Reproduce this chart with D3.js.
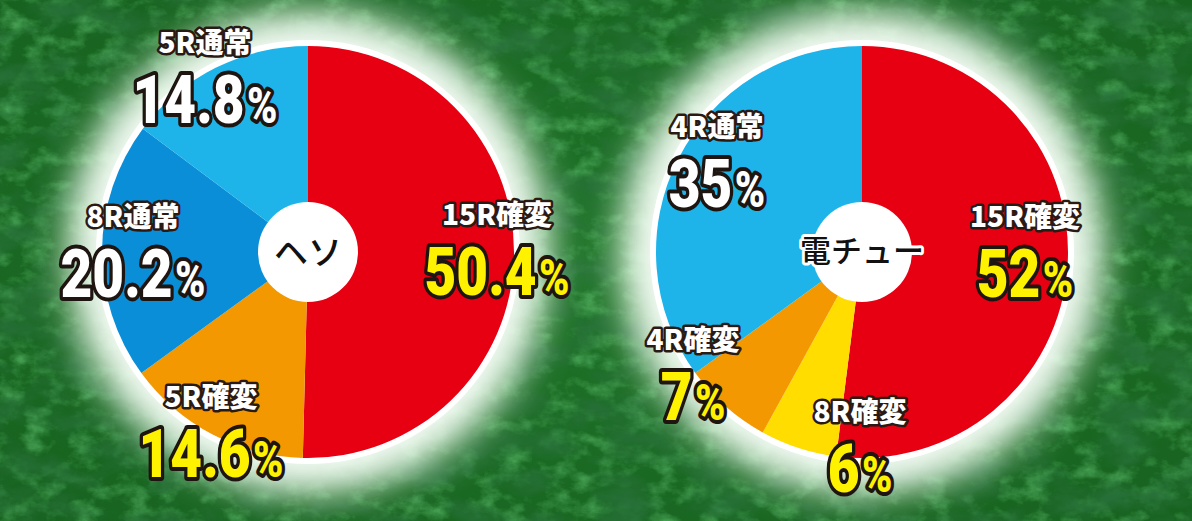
<!DOCTYPE html>
<html>
<head>
<meta charset="utf-8">
<script src="https://cdn.jsdelivr.net/npm/d3@7"></script>
<style>
  html, body { margin: 0; padding: 0; background: #16521f; }
  svg { display: block; }
</style>
</head>
<body>
<svg id="chart"></svg>
<script>
// Data: two pies, slices listed clockwise from 12 o'clock
const hesoNames  = ["15R確変", "5R確変", "8R通常", "5R通常"];
const hesoValues = [50.4, 14.6, 20.2, 14.8];
const hesoLabels = ["50.4", "14.6", "20.2", "14.8"];

const denNames  = ["15R確変", "8R確変", "4R確変", "4R通常"];
const denValues = [52, 6, 7, 35];
const denLabels = ["52", "6", "7", "35"];

const pieTitles = ["ヘソ", "電チュー"];

// Colours per slice name
const sliceColor = {
  "15R確変": "#e60012",
  "5R確変": "#f39800",
  "4R確変": "#f39800",
  "8R確変": "#ffdd00",
  "8R通常": "#0a8ed8",
  "5R通常": "#1eb4ea",
  "4R通常": "#1eb4ea"
};
// value text colour: yellow for 確変, white for 通常
const valueColor = name => name.indexOf("確変") >= 0 ? "#fff200" : "#ffffff";

// Layout
const width = 1192;
const height = 521;
const radius = 206;
const innerR = 50;

// label anchor offsets from the pie centre (dx, baseline of value text)
const hesoLabelPos = [[189, 43], [-97, 225], [-175, 45], [-103, -129]];
const denLabelPos  = [[163, 45], [-2, 240], [-169, 168], [-145, -45]];

const svg = d3.select("#chart")
  .attr("width", width)
  .attr("height", height);

const defs = svg.append("defs");

// textured green background: dark blotches + light streaks
const tex = defs.append("filter").attr("id", "tex")
  .attr("x", 0).attr("y", 0).attr("width", "100%").attr("height", "100%");
tex.append("feTurbulence")
  .attr("type", "fractalNoise")
  .attr("baseFrequency", "0.02 0.035")
  .attr("numOctaves", 6)
  .attr("seed", 11)
  .attr("result", "noise");
tex.append("feColorMatrix")
  .attr("in", "noise")
  .attr("type", "matrix")
  .attr("values", "0 0 0 0 0.02  0 0 0 0 0.16  0 0 0 0 0.04  -2.2 0 0 0 1.3");

const tex2 = defs.append("filter").attr("id", "tex2")
  .attr("x", 0).attr("y", 0).attr("width", "100%").attr("height", "100%");
tex2.append("feTurbulence")
  .attr("type", "fractalNoise")
  .attr("baseFrequency", "0.04 0.06")
  .attr("numOctaves", 5)
  .attr("seed", 3)
  .attr("result", "noise");
tex2.append("feColorMatrix")
  .attr("in", "noise")
  .attr("type", "matrix")
  .attr("values", "0 0 0 0 0.12  0 0 0 0 0.55  0 0 0 0 0.17  1.4 0 0 0 -0.62");

const glow = defs.append("filter").attr("id", "glow")
  .attr("x", "-50%").attr("y", "-50%").attr("width", "200%").attr("height", "200%");
glow.append("feGaussianBlur").attr("stdDeviation", 20);

const vign = defs.append("radialGradient").attr("id", "vign")
  .attr("cx", "50%").attr("cy", "50%").attr("r", "70%");
vign.append("stop").attr("offset", "0%").attr("stop-color", "#1f7429");
vign.append("stop").attr("offset", "100%").attr("stop-color", "#17621f");

svg.append("rect").attr("width", width).attr("height", height).attr("fill", "url(#vign)");
svg.append("rect").attr("width", width).attr("height", height).attr("filter", "url(#tex2)");
svg.append("rect").attr("width", width).attr("height", height).attr("filter", "url(#tex)");

const pie = d3.pie().sort(null).value(d => d.value);
const arc = d3.arc().innerRadius(0).outerRadius(radius);

function drawPie(cx, cy, names, values, labels, pos, title) {
  const data = names.map((n, i) => ({ name: n, value: values[i], label: labels[i], pos: pos[i] }));
  const g = svg.append("g").attr("transform", `translate(${cx},${cy})`);

  // white glow round the pie
  g.append("circle").attr("r", radius + 34).attr("fill", "#eaffea")
    .attr("opacity", 0.85).attr("filter", "url(#glow)");
  g.append("circle").attr("r", radius + 18).attr("fill", "#ffffff")
    .attr("opacity", 0.9).attr("filter", "url(#glow)");
  g.append("circle").attr("r", radius + 6).attr("fill", "#ffffff");

  g.selectAll("path.slice")
    .data(pie(data))
    .enter()
    .append("path")
    .attr("class", "slice")
    .attr("d", arc)
    .attr("fill", d => sliceColor[d.data.name]);

  g.append("circle").attr("r", innerR).attr("fill", "#ffffff");

  g.append("text")
    .attr("text-anchor", "middle")
    .attr("y", title.length > 2 ? 10 : 13)
    .attr("font-family", "'Noto Sans CJK JP', sans-serif")
    .attr("font-size", title.length > 2 ? 31 : 34)
    .attr("font-weight", 500)
    .attr("fill", "#111")
    .attr("stroke", "#fff")
    .attr("stroke-width", 6)
    .attr("stroke-linejoin", "round")
    .attr("paint-order", "stroke")
    .text(title);

  const lab = g.selectAll("g.lab")
    .data(data)
    .enter()
    .append("g")
    .attr("class", "lab")
    .attr("transform", d => `translate(${d.pos[0]},${d.pos[1]})`);

  lab.append("text")
    .attr("text-anchor", "middle")
    .attr("y", -70)
    .attr("font-family", "'Noto Sans CJK JP', sans-serif")
    .attr("font-size", 28)
    .attr("font-weight", 900)
    .attr("fill", "#fff")
    .attr("stroke", "#2a1a14")
    .attr("stroke-width", 5)
    .attr("stroke-linejoin", "round")
    .attr("paint-order", "stroke")
    .text(d => d.name);

  // condensed heavy numerals
  const val = lab.append("g")
    .attr("transform", "scale(0.82,1)")
    .append("text")
    .attr("text-anchor", "middle")
    .attr("font-family", "Roboto, 'DejaVu Sans', sans-serif")
    .attr("font-weight", 900)
    .attr("font-size", 67)
    .attr("fill", d => valueColor(d.name))
    .attr("stroke", "#1e1410")
    .attr("stroke-width", 8)
    .attr("stroke-linejoin", "round")
    .attr("paint-order", "stroke");
  val.append("tspan").text(d => d.label);
  val.append("tspan").attr("font-size", 50).attr("dx", 3).text("%");
}

drawPie(308, 252, hesoNames, hesoValues, hesoLabels, hesoLabelPos, pieTitles[0]);
drawPie(862, 252, denNames, denValues, denLabels, denLabelPos, pieTitles[1]);
</script>
</body>
</html>
